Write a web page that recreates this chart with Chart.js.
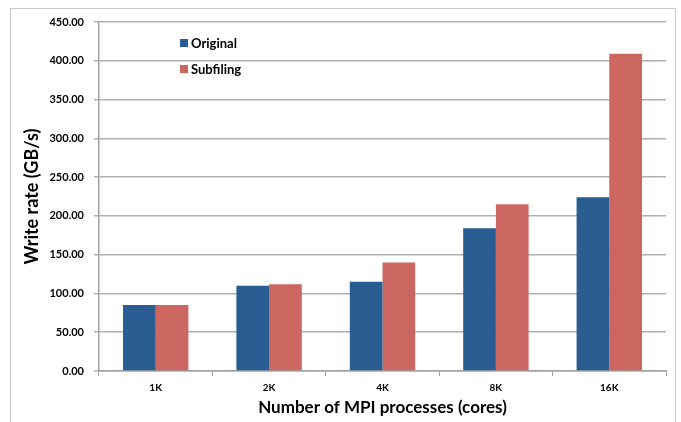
<!DOCTYPE html>
<html>
<head>
<meta charset="utf-8">
<script src="https://cdn.jsdelivr.net/npm/chart.js@4.4.1/dist/chart.umd.min.js"></script>
<style>
    body { margin: 0; background: #fff; }
    #frame { position: absolute; left: 10px; top: 8px; width: 666px; height: 440px; border: 1px solid #c8c8c8; box-sizing: border-box; }
    #wrap { position: absolute; left: 0; top: 0; width: 681px; height: 422px; }
</style>
</head>
<body>
<div id="frame"></div>
<div id="wrap"><canvas id="writeChart"></canvas></div>
<script>
// --- DATA ---
const categories = ['1K', '2K', '4K', '8K', '16K'];
const originalRates = [85, 110, 115, 184, 224];
const subfilingRates = [85, 112, 140, 215, 409];
const seriesNames = ['Original', 'Subfiling'];
const seriesColors = ['#2a5d91', '#cc6661'];

const FONT = 'Lato, "Open Sans", sans-serif';

// legend drawn inside the plot, like the original
const innerLegend = {
    id: 'innerLegend',
    afterDraw(chart) {
        const ctx = chart.ctx;
        ctx.save();
        ctx.font = 'bold 13px ' + FONT;
        ctx.textBaseline = 'middle';
        chart.data.datasets.forEach((ds, i) => {
            const y = 43 + i * 26;
            ctx.fillStyle = ds.backgroundColor;
            ctx.fillRect(180, y - 4, 8, 8);
            ctx.fillStyle = '#000';
            ctx.fillText(ds.label, 191, y + 1);
        });
        ctx.restore();
    }
};

const ctx = document.getElementById('writeChart').getContext('2d');
new Chart(ctx, {
    type: 'bar',
    data: {
        labels: categories,
        datasets: [
            { label: seriesNames[0], data: originalRates, backgroundColor: seriesColors[0] },
            { label: seriesNames[1], data: subfilingRates, backgroundColor: seriesColors[1] }
        ]
    },
    options: {
        responsive: true,
        maintainAspectRatio: false,
        animation: false,
        layout: { padding: { left: 0, right: 15, top: 22, bottom: 0 } },
        datasets: { bar: { categoryPercentage: 0.577, barPercentage: 1 } },
        plugins: { legend: { display: false }, tooltip: { enabled: false } },
        scales: {
            x: {
                afterFit: s => { s.height = 51; },
                grid: { drawOnChartArea: false, offset: true, color: '#a0a0a0', tickLength: 5 },
                border: { color: '#a0a0a0', width: 1.5 },
                ticks: { color: '#000', font: { family: FONT, size: 10, weight: 'bold' }, padding: 6 },
                title: { display: true, text: 'Number of MPI processes (cores)', color: '#000', font: { family: FONT, size: 17, weight: 'bold' }, padding: { top: 3 } }
            },
            y: {
                min: 0,
                max: 450,
                afterFit: s => { s.width = 99; },
                grid: { color: '#b0b0b0', lineWidth: 1.5, tickLength: 5 },
                border: { color: '#a0a0a0', width: 1.5 },
                ticks: {
                    stepSize: 50,
                    color: '#000',
                    padding: 10,
                    font: { family: FONT, size: 11, weight: 'bold' },
                    callback: v => v.toFixed(2)
                },
                title: { display: true, text: 'Write rate (GB/s)', color: '#000', font: { family: FONT, size: 18, weight: 'bold' }, padding: { top: 21, bottom: 0 } }
            }
        }
    },
    plugins: [innerLegend]
});
</script>
</body>
</html>
